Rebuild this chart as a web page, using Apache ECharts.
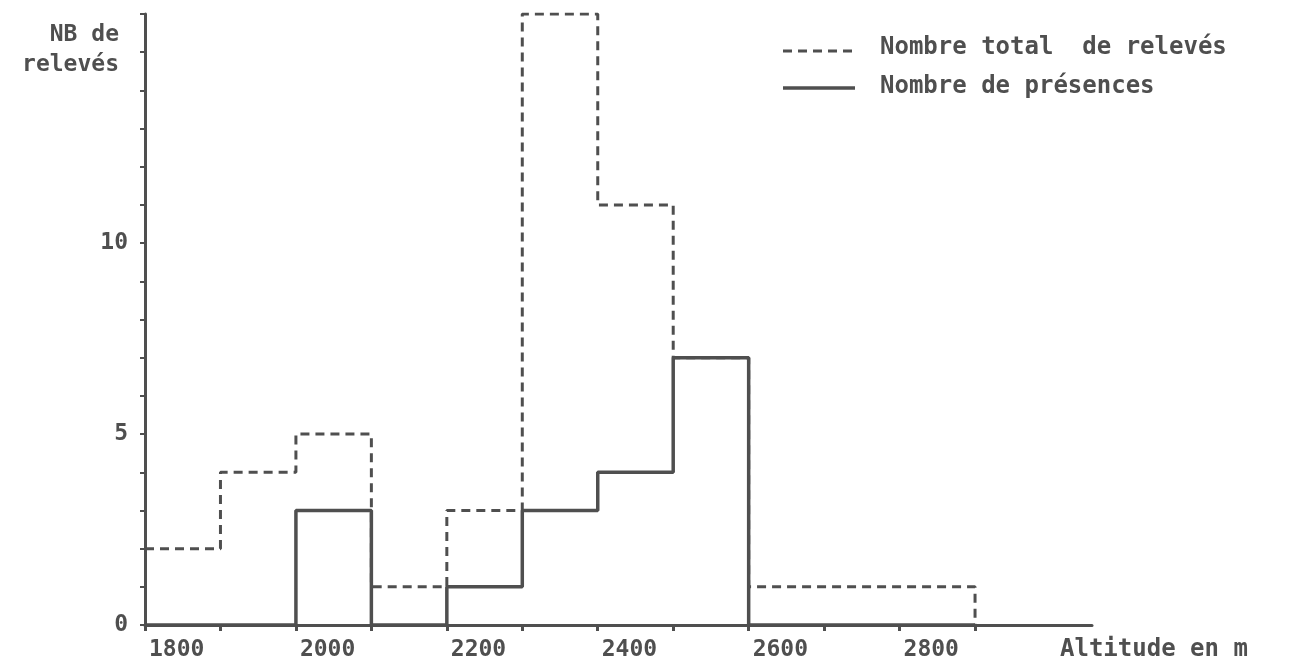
<!DOCTYPE html>
<html>
<head>
<meta charset="utf-8">
<title>Relevés par altitude</title>
<script src="https://cdn.jsdelivr.net/npm/echarts@6/dist/echarts.min.js"></script>
<style>
  html, body { margin: 0; padding: 0; background: #ffffff; }
  #chart { width: 1297px; height: 669px; }
</style>
</head>
<body>
<div id="chart"></div>
<script>
// Altitude classes (lower bound of each 100 m band)
const altitudes = [1800, 1900, 2000, 2100, 2200, 2300, 2400, 2500, 2600, 2700, 2800];
const classWidth = 100;
// Total number of survey plots per band
const totalReleves = [2, 4, 5, 1, 3, 16, 11, 7, 1, 1, 1];
// Number of plots where the species is present
const presences = [0, 0, 3, 0, 1, 3, 4, 7, 0, 0, 0];
// Axis ticks and labels
const xTicks = [1800, 1900, 2000, 2100, 2200, 2300, 2400, 2500, 2600, 2700, 2800, 2900];
const xLabels = [1800, 2000, 2200, 2400, 2600, 2800];
const yTicks = [0, 1, 2, 3, 4, 5, 6, 7, 8, 9, 10, 11, 12, 13, 14, 15, 16];
const yLabels = [0, 5, 10];
const seriesNames = ['Nombre total  de relevés', 'Nombre de présences'];

const INK = '#4f4f4f';
const FONT = '"DejaVu Sans Mono", "Liberation Mono", monospace';

// Step outline of a histogram: each band holds its value until the next bound
function stepData(values) {
  const pts = values.map((v, i) => [altitudes[i], v]);
  pts.push([altitudes[altitudes.length - 1] + classWidth, 0]);
  return pts;
}

const textStyle = (extra) => Object.assign({
  fontFamily: FONT,
  fontWeight: 'bold',
  fontSize: 24,
  fill: INK
}, extra);

const chart = echarts.init(document.getElementById('chart'));
chart.setOption({
  backgroundColor: '#ffffff',
  animation: false,
  grid: { left: 145, right: 205, top: 14, bottom: 44 },
  xAxis: {
    type: 'value',
    min: 1800,
    max: 3055,
    splitLine: { show: false },
    axisLine: { show: true, lineStyle: { color: INK, width: 3 } },
    axisTick: { show: true, customValues: xTicks, length: 6, lineStyle: { color: INK, width: 3 } },
    axisLabel: {
      customValues: xLabels,
      formatter: (v) => String(v),
      align: 'left',
      margin: 14,
      padding: [0, 0, 0, 4],
      fontFamily: FONT,
      fontWeight: 'bold',
      fontSize: 23,
      color: INK
    }
  },
  yAxis: {
    type: 'value',
    min: 0,
    max: 16,
    splitLine: { show: false },
    axisLine: { show: true, lineStyle: { color: INK, width: 3 } },
    axisTick: { show: true, customValues: yTicks, length: 5, lineStyle: { color: INK, width: 2 } },
    axisLabel: {
      customValues: yLabels,
      margin: 17,
      fontFamily: FONT,
      fontWeight: 'bold',
      fontSize: 23,
      color: INK
    }
  },
  graphic: [
    {
      type: 'text',
      x: 119,
      y: 20,
      style: textStyle({ text: 'NB de\nrelevés', align: 'right', fontSize: 23, lineHeight: 30 })
    },
    {
      type: 'text',
      x: 1060,
      y: 638,
      style: textStyle({ text: 'Altitude en m' })
    },
    // legend: keys and names
    {
      type: 'line',
      shape: { x1: 783, y1: 51, x2: 855, y2: 51 },
      style: { stroke: INK, lineWidth: 3, lineDash: [9, 6] }
    },
    {
      type: 'text',
      x: 880,
      y: 48,
      style: textStyle({ text: seriesNames[0], verticalAlign: 'middle' })
    },
    {
      type: 'line',
      shape: { x1: 783, y1: 88, x2: 855, y2: 88 },
      style: { stroke: INK, lineWidth: 3.5 }
    },
    {
      type: 'text',
      x: 880,
      y: 87,
      style: textStyle({ text: seriesNames[1], verticalAlign: 'middle' })
    }
  ],
  series: [
    {
      name: seriesNames[0],
      type: 'line',
      step: 'end',
      symbol: 'none',
      data: stepData(totalReleves),
      lineStyle: { color: INK, width: 3, type: [9, 6] },
      z: 3
    },
    {
      name: seriesNames[1],
      type: 'line',
      step: 'end',
      symbol: 'none',
      data: stepData(presences),
      lineStyle: { color: INK, width: 3.5 },
      z: 4
    }
  ]
});
</script>
</body>
</html>
